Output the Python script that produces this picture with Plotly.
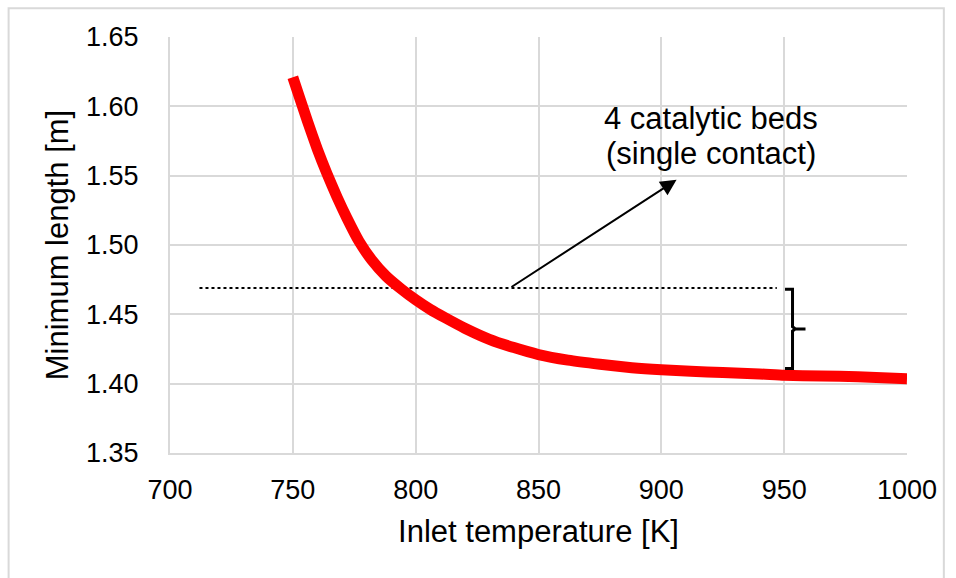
import plotly.graph_objects as go

# Minimum reactor length versus inlet temperature
inlet_temp_K = [750, 753, 756, 760, 764, 768, 772, 777, 782, 788, 794, 800, 806,
                812, 820, 830, 840, 850, 862, 875, 888, 900, 912, 925, 940, 950,
                965, 980, 1000]
min_length_m = [1.621, 1.605, 1.589, 1.569, 1.551, 1.5345, 1.5195, 1.5025, 1.4895,
                1.4775, 1.4685, 1.4605, 1.4535, 1.4475, 1.440, 1.432, 1.426, 1.421,
                1.417, 1.414, 1.4115, 1.410, 1.409, 1.408, 1.407, 1.406, 1.4055,
                1.405, 1.4035]

# Reference level for the 4-bed single-contact configuration
ref_level = 1.469
ref_span = [712, 947]
# Bracket spanning the gap between reference and plateau
brace_x = 953.4
brace_range = [1.411, 1.468]
# Arrow from the reference line to the label
arrow_tail = (838.4, 1.469)
arrow_head = (906.2, 1.547)
label_x = 920.4
label_lines = ["4 catalytic beds", "(single contact)"]
label_y = [1.5912, 1.5660]

x_ticks = [700, 750, 800, 850, 900, 950, 1000]
y_ticks = [1.35, 1.40, 1.45, 1.50, 1.55, 1.60, 1.65]

FONT = "Arial, Liberation Sans, sans-serif"
GRID = "#d9d9d9"

fig = go.Figure()

fig.add_trace(go.Scatter(
    x=ref_span, y=[ref_level, ref_level], mode="lines",
    line=dict(color="black", width=2, dash="dot"),
    showlegend=False, hoverinfo="skip",
))

fig.add_trace(go.Scatter(
    x=inlet_temp_K, y=min_length_m, mode="lines",
    line=dict(color="#ff0000", width=11, shape="spline", smoothing=0.5),
    showlegend=False,
))

# Curly bracket "}" drawn as a path
lo, hi = brace_range
mid = (lo + hi) / 2
hook = 7.5 / 2.458   # hook length in K
tip = 13.0 / 2.458
kink = 0.0015
brace_path = (
    f"M {brace_x - hook},{hi} L {brace_x},{hi} L {brace_x},{mid + kink} "
    f"L {brace_x + 1.2},{mid} L {brace_x + tip},{mid} "
    f"M {brace_x + 1.2},{mid} L {brace_x},{mid - kink} L {brace_x},{lo} "
    f"L {brace_x - hook},{lo}"
)
fig.add_shape(type="path", path=brace_path, xref="x", yref="y",
              line=dict(color="black", width=3))

# Outer chart border
fig.add_shape(type="rect", xref="paper", yref="paper",
              x0=-0.219, x1=1.050, y0=-0.310, y1=1.069,
              line=dict(color=GRID, width=2), layer="below")

fig.add_annotation(
    x=arrow_head[0], y=arrow_head[1], ax=arrow_tail[0], ay=arrow_tail[1],
    xref="x", yref="y", axref="x", ayref="y",
    showarrow=True, arrowhead=2, arrowsize=1.6, arrowwidth=2,
    arrowcolor="black", text="",
)
for line_text, ly in zip(label_lines, label_y):
    fig.add_annotation(
        x=label_x, y=ly, xref="x", yref="y", text=line_text,
        showarrow=False, font=dict(family=FONT, size=31, color="black"),
        xanchor="center", yanchor="middle",
    )

axis_common = dict(
    showgrid=True, gridcolor=GRID, gridwidth=2,
    showline=True, linecolor=GRID, linewidth=2,
    zeroline=False, ticks="", mirror=False,
    tickfont=dict(family=FONT, size=27, color="black"),
)

fig.update_xaxes(
    range=[700, 1000], tickvals=x_ticks, ticktext=[str(v) for v in x_ticks],
    title=dict(text="Inlet temperature [K]", standoff=16,
               font=dict(family=FONT, size=31, color="black")),
    ticklabelstandoff=12,
    **axis_common,
)
fig.update_yaxes(
    range=[1.35, 1.65], tickvals=y_ticks, ticktext=[f"{v:.2f}" for v in y_ticks],
    title=dict(text="Minimum length [m]", standoff=8,
               font=dict(family=FONT, size=31, color="black")),
    ticklabelstandoff=24,
    **axis_common,
)

fig.update_layout(
    width=956, height=578,
    margin=dict(l=170, r=49, t=37, b=125, pad=0),
    paper_bgcolor="white", plot_bgcolor="white",
    font=dict(family=FONT),
)

fig.write_html("out.html")
